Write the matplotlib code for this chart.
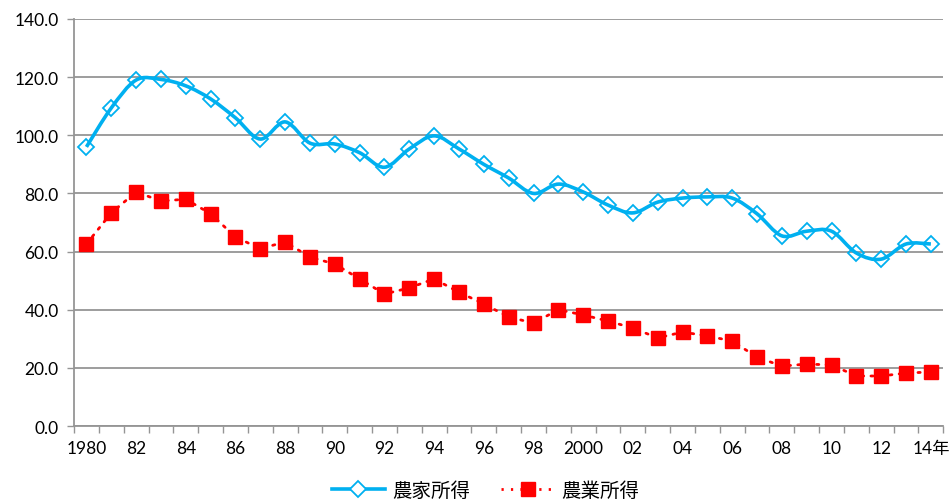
import matplotlib.pyplot as plt
import numpy as np
from matplotlib.path import Path
from matplotlib.patches import PathPatch
from matplotlib.lines import Line2D

plt.rcParams['font.family'] = ['Lato', 'Noto Sans CJK JP', 'DejaVu Sans']

years = list(range(1980, 2015))
# 農家所得 / 農業所得 (指数)
farm_household = [96.0, 109.4, 119.0, 119.2, 117.0, 112.5, 106.0, 98.7, 104.6, 97.3,
                  97.0, 94.0, 89.0, 95.3, 99.8, 95.3, 90.0, 85.3, 80.0, 83.2,
                  80.5, 76.0, 73.3, 77.0, 78.4, 78.8, 78.4, 73.0, 65.4, 67.0,
                  67.0, 59.5, 57.4, 62.6, 62.6]
farm_income = [62.6, 73.3, 80.5, 77.4, 78.0, 73.0, 65.0, 61.0, 63.3, 58.1,
               55.7, 50.6, 45.4, 47.5, 50.6, 46.0, 42.0, 37.5, 35.4, 40.0,
               38.2, 36.1, 33.7, 30.3, 32.3, 31.0, 29.2, 23.7, 20.6, 21.3,
               21.0, 17.2, 17.2, 18.2, 18.6]
tick_labels = ['1980', '82', '84', '86', '88', '90', '92', '94', '96', '98', '2000',
               '02', '04', '06', '08', '10', '12', '14年']

BLUE = '#00B0F0'
RED = '#FF0000'
GRID = '#959595'

fig = plt.figure(figsize=(9.49, 5.02), dpi=100)
ax = fig.add_axes([0.0780, 0.1494, 0.9160, 0.8108])

x = np.arange(len(years))


def smooth_path(xs, ys, k=1/6):
    # Bezier segments through every point (Excel style smoothed line)
    pts = np.column_stack([xs, ys]).astype(float)
    n = len(pts)
    verts = [pts[0]]
    codes = [Path.MOVETO]
    for i in range(n - 1):
        p0 = pts[i - 1] if i > 0 else pts[i]
        p1 = pts[i]
        p2 = pts[i + 1]
        p3 = pts[i + 2] if i + 2 < n else pts[i + 1]
        c1 = p1 + (p2 - p0) * k
        c2 = p2 - (p3 - p1) * k
        verts += [c1, c2, p2]
        codes += [Path.CURVE4] * 3
    return Path(verts, codes)


ax.add_patch(PathPatch(smooth_path(x, farm_household), facecolor='none',
                       edgecolor=BLUE, lw=2.6, zorder=3))
ax.plot(x, farm_household, linestyle='none', marker='D', markersize=8.5,
        markerfacecolor='none', markeredgecolor=BLUE, markeredgewidth=1.3, zorder=4)

ax.plot(x, farm_income, color=RED, lw=2.0, linestyle=(0, (0.8, 2.6)),
        dash_capstyle='round', marker='s', markersize=9.5,
        markerfacecolor=RED, markeredgecolor=RED, zorder=4)

ax.set_xlim(-0.5, len(years) - 0.5)
ax.set_ylim(0, 140)
ax.set_yticks(np.arange(0, 141, 20))
ax.set_yticklabels([f'{v:.1f}' for v in np.arange(0, 141, 20)])

# ticks on category boundaries, labels every 2 years at centers
ax.set_xticks(np.arange(-0.5, len(years), 1.0))
ax.set_xticklabels([])
ax.set_xticks(x[::2], minor=True)
ax.set_xticklabels(tick_labels, minor=True)
ax.tick_params(axis='x', which='major', direction='out', length=5, color=GRID, width=1)
ax.tick_params(axis='x', which='minor', length=0, pad=10, labelsize=12.5)
ax.tick_params(axis='y', direction='out', length=5, color=GRID, width=1, labelsize=12.5, pad=6)

ax.yaxis.grid(True, color=GRID, lw=1.3)
ax.set_axisbelow(True)
for s in ['top', 'right']:
    ax.spines[s].set_visible(False)
for s in ['left', 'bottom']:
    ax.spines[s].set_color(GRID)
    ax.spines[s].set_linewidth(1.3)

handles = [
    Line2D([], [], color=BLUE, lw=2.6, marker='D', markersize=8.5,
           markerfacecolor='white', markeredgecolor=BLUE, markeredgewidth=1.3),
    Line2D([], [], color=RED, lw=2.0, linestyle=(0, (0.8, 2.6)), marker='s',
           markersize=9.5, markerfacecolor=RED, markeredgecolor=RED),
]
fig.legend(handles, ['農家所得', '農業所得'], loc='center', bbox_to_anchor=(0.512, 0.022),
           ncol=2, frameon=False, fontsize=14, handlelength=2.7, columnspacing=1.6,
           handletextpad=0.4)

fig.savefig('out.png', dpi=100)
